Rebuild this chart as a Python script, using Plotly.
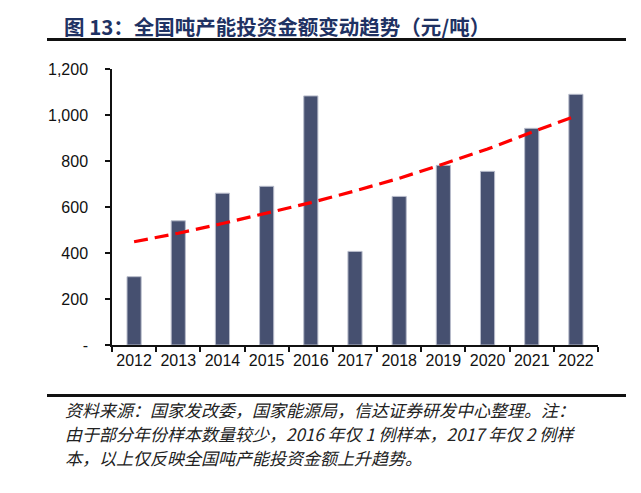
import plotly.graph_objects as go

years = ["2012", "2013", "2014", "2015", "2016", "2017", "2018", "2019", "2020", "2021", "2022"]
invest = [297, 540, 660, 690, 1083, 407, 646, 781, 755, 942, 1090]
trend = [449, 486, 528, 572, 619, 670, 725, 787, 852, 925, 996]
ytick_vals = [0, 200, 400, 600, 800, 1000, 1200]
ytick_text = ["-", "200", "400", "600", "800", "1,000", "1,200"]

title_text = "图 13：全国吨产能投资金额变动趋势（元/吨）"
source_lines = ["资料来源：国家发改委，国家能源局，信达证券研发中心整理。注：",
                "由于部分年份样本数量较少，2016 年仅 1 例样本，2017 年仅 2 例样",
                "本，以上仅反映全国吨产能投资金额上升趋势。"]
source_y = [409.5, 433.5, 457.5]

OFF = 8  # page body margin
W, H = 641 - OFF, 493 - OFF
L, R, T, B = 112 - OFF, 598 - OFF, 69 - OFF, 345 - OFF

def px(x):
    return (x - OFF - L) / (R - L)

def py(y):
    return (B - (y - OFF)) / (B - T)

fig = go.Figure()
fig.add_trace(go.Bar(
    x=years, y=invest,
    marker=dict(color="#465070", line=dict(color="#b8bccb", width=1)),
    showlegend=False,
))
fig.add_trace(go.Scatter(
    x=years, y=trend, mode="lines",
    line=dict(color="#ff0000", width=3.2, dash="14px,7px"),
    showlegend=False,
))

annotations = [
    dict(text="<b>" + title_text + "</b>", xref="paper", yref="paper",
         x=px(62), y=py(25.5), xanchor="left", yanchor="middle", showarrow=False,
         font=dict(family="Noto Sans CJK SC", size=20.5, color="#1f3263")),
]
for line, yy in zip(source_lines, source_y):
    annotations.append(dict(
        text="<i>" + line + "</i>", xref="paper", yref="paper",
        x=px(64), y=py(yy), xanchor="left", yanchor="middle", showarrow=False,
        align="left", borderpad=0,
        font=dict(family="Noto Sans CJK SC", size=17, color="#222222")))

fig.update_layout(
    width=W, height=H,
    margin=dict(l=L, r=W - R, t=T, b=H - B, pad=0),
    paper_bgcolor="white", plot_bgcolor="white",
    bargap=0.68,
    font=dict(family="Liberation Sans, Arial, sans-serif", color="#111111"),
    xaxis=dict(
        type="category", showgrid=False, zeroline=False,
        showline=True, linecolor="#111111", linewidth=1.5,
        ticks="outside", tickson="boundaries", ticklen=5, tickcolor="#111111", tickwidth=1.5,
        tickangle=0,
        tickfont=dict(size=16, family="Liberation Sans, Arial, sans-serif", color="#111111"),
        fixedrange=True,
    ),
    yaxis=dict(
        range=[0, 1200], showgrid=False, zeroline=False,
        showline=True, linecolor="#111111", linewidth=1.5,
        ticks="outside", ticklen=5, tickcolor="#111111", tickwidth=1.5,
        tickvals=ytick_vals, ticktext=ytick_text,
        tickfont=dict(size=16, family="Liberation Sans, Arial, sans-serif", color="#111111"),
        ticklabelstandoff=14,
        fixedrange=True,
    ),
    shapes=[
        dict(type="line", xref="paper", yref="paper",
             x0=px(47), x1=px(626), y0=py(39.5), y1=py(39.5),
             line=dict(color="#111111", width=3)),
        dict(type="line", xref="paper", yref="paper",
             x0=px(47), x1=px(626), y0=py(395.5), y1=py(395.5),
             line=dict(color="#111111", width=3)),
    ],
    annotations=annotations,
)

fig.write_html("out.html")
